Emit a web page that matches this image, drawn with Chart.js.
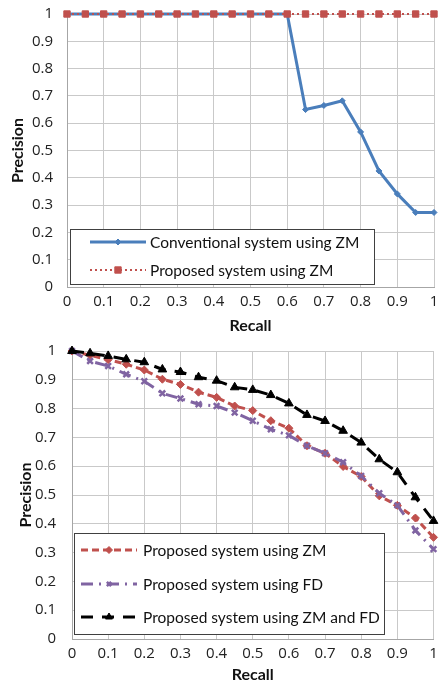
<!DOCTYPE html>
<html>
<head>
<meta charset="utf-8">
<script src="https://cdn.jsdelivr.net/npm/chart.js@4"></script>
<style>
  body { margin: 0; background: #fff; }
  canvas { display: block; }
</style>
</head>
<body>
<canvas id="chart-top" width="440" height="340"></canvas>
<canvas id="chart-bottom" width="440" height="344"></canvas>
<script>
const recall = [0, 0.05, 0.1, 0.15, 0.2, 0.25, 0.3, 0.35, 0.4, 0.45, 0.5, 0.55, 0.6, 0.65, 0.7, 0.75, 0.8, 0.85, 0.9, 0.95, 1];

// top chart
const conventionalZM = [1, 1, 1, 1, 1, 1, 1, 1, 1, 1, 1, 1, 1, 0.65, 0.665, 0.682, 0.568, 0.425, 0.341, 0.273, 0.273];
const proposedZMTop = [1, 1, 1, 1, 1, 1, 1, 1, 1, 1, 1, 1, 1, 1, 1, 1, 1, 1, 1, 1, 1];

// bottom chart
const proposedZM = [1, 0.985, 0.97, 0.954, 0.934, 0.902, 0.884, 0.857, 0.839, 0.809, 0.793, 0.758, 0.732, 0.671, 0.645, 0.599, 0.564, 0.497, 0.464, 0.42, 0.353];
const proposedFD = [1, 0.965, 0.948, 0.919, 0.895, 0.853, 0.835, 0.815, 0.809, 0.786, 0.758, 0.728, 0.707, 0.671, 0.645, 0.614, 0.566, 0.506, 0.464, 0.377, 0.312];
const proposedZMFD = [1, 0.992, 0.983, 0.971, 0.961, 0.936, 0.927, 0.909, 0.897, 0.874, 0.865, 0.847, 0.818, 0.778, 0.757, 0.723, 0.682, 0.624, 0.579, 0.492, 0.41];

const corAzul = "#4A7EBB";
const corVermelha = "#C0504D";
const corRoxa = "#8064A2";
const corPreta = "#000000";
const fonteTicks = "'Open Sans', sans-serif";
const fonte = "Lato, 'Open Sans', sans-serif";

function pontos(valores) {
  return recall.map((r, i) => ({ x: r, y: valores[i] }));
}

function rotulo(v) {
  return String(Number(v.toFixed(1)));
}

// legend drawn as a box inside the plot area
const legendBox = {
  id: "legendBox",
  afterDatasetsDraw(chart, args, opts) {
    const { ctx, chartArea } = chart;
    const x = Math.round(chartArea.left + opts.dx);
    const y = Math.round(chartArea.bottom - opts.dy - opts.h);
    ctx.save();
    ctx.fillStyle = "#fff";
    ctx.fillRect(x, y, opts.w, opts.h);
    ctx.strokeStyle = "#404040";
    ctx.lineWidth = 1;
    ctx.strokeRect(x + 0.5, y + 0.5, opts.w, opts.h);

    chart.data.datasets.forEach((ds, i) => {
      const cy = y + opts.rows[i];
      ctx.save();
      ctx.strokeStyle = ds.borderColor;
      ctx.lineWidth = ds.borderWidth;
      ctx.setLineDash(ds.borderDash || []);
      ctx.beginPath();
      ctx.moveTo(x + opts.lx0, cy);
      ctx.lineTo(x + opts.lx1, cy);
      ctx.stroke();
      ctx.setLineDash([]);
      ctx.fillStyle = ds.pointBackgroundColor;
      ctx.strokeStyle = ds.pointBorderColor;
      ctx.lineWidth = ds.pointBorderWidth;
      Chart.helpers.drawPoint(ctx, {
        pointStyle: ds.pointStyle,
        radius: ds.legendRadius || ds.pointRadius,
        borderWidth: ds.pointBorderWidth,
        rotation: 0
      }, x + (opts.lx0 + opts.lx1) / 2, cy);
      ctx.restore();

      ctx.fillStyle = "#111";
      ctx.font = "15.5px " + fonte;
      ctx.textBaseline = "middle";
      ctx.fillText(ds.label, x + opts.tx, cy + 1);
    });
    ctx.restore();
  }
};

function criarOptions(cfg) {
  return {
    responsive: false,
    animation: false,
    layout: { padding: { top: cfg.padTop, right: 6, left: 0, bottom: 0 } },
    plugins: {
      legend: { display: false },
      tooltip: { enabled: false },
      legendBox: cfg.legenda
    },
    scales: {
      x: {
        type: "linear",
        min: 0,
        max: 1,
        ticks: {
          stepSize: 0.1,
          color: "#222",
          padding: 6,
          maxRotation: 0,
          font: { family: fonteTicks, size: 15 },
          callback: rotulo
        },
        grid: { color: "#c9c9c9", drawTicks: false },
        border: { color: "#a6a6a6" },
        title: {
          display: true,
          text: "Recall",
          color: "#111",
          font: { family: fonte, size: 16, weight: "bold" },
          padding: { top: 0, bottom: cfg.xTitlePad }
        },
        afterFit: (s) => {
          s.height = cfg.xAltura;
          s.paddingLeft = 0;
          s.paddingRight = 0;
        }
      },
      y: {
        min: 0,
        max: 1,
        ticks: {
          stepSize: 0.1,
          color: "#222",
          padding: cfg.yTickPad,
          font: { family: fonteTicks, size: 15 },
          callback: rotulo
        },
        grid: { color: "#c9c9c9", drawTicks: false },
        border: { color: "#a6a6a6" },
        title: {
          display: true,
          text: "Precision",
          color: "#111",
          font: { family: fonte, size: 16, weight: "bold" },
          padding: { top: cfg.yTitlePad, bottom: 0 }
        },
        afterFit: (s) => {
          s.width = cfg.yLargura;
          s.paddingTop = 0;
          s.paddingBottom = 0;
        }
      }
    }
  };
}

new Chart(document.getElementById("chart-top"), {
  type: "scatter",
  data: {
    datasets: [
      {
        label: "Conventional system using ZM",
        data: pontos(conventionalZM),
        showLine: true,
        borderColor: corAzul,
        borderWidth: 3,
        pointStyle: "rectRot",
        pointRadius: 3,
        pointBackgroundColor: corAzul,
        pointBorderColor: corAzul,
        pointBorderWidth: 1,
        clip: false,
        order: 2
      },
      {
        label: "Proposed system using ZM",
        data: pontos(proposedZMTop),
        showLine: true,
        borderColor: corVermelha,
        borderWidth: 2,
        borderDash: [2, 3],
        pointStyle: "rect",
        pointRadius: 4.5,
        pointBackgroundColor: corVermelha,
        pointBorderColor: corVermelha,
        pointBorderWidth: 1,
        clip: false,
        order: 1
      }
    ]
  },
  options: criarOptions({
    padTop: 14,
    xAltura: 53,
    yLargura: 67,
    xTitlePad: 5,
    yTitlePad: 8,
    yTickPad: 14,
    legenda: { dx: 3, dy: 3, w: 304, h: 55, rows: [13, 41], lx0: 20, lx1: 76, tx: 80 }
  }),
  plugins: [legendBox]
});

new Chart(document.getElementById("chart-bottom"), {
  type: "scatter",
  data: {
    datasets: [
      {
        label: "Proposed system using ZM",
        data: pontos(proposedZM),
        showLine: true,
        borderColor: corVermelha,
        borderWidth: 3,
        borderDash: [7, 4],
        pointStyle: "rectRot",
        pointRadius: 4,
        pointBackgroundColor: corVermelha,
        pointBorderColor: corVermelha,
        pointBorderWidth: 1,
        legendRadius: 3.5,
        clip: false,
        order: 3
      },
      {
        label: "Proposed system using FD",
        data: pontos(proposedFD),
        showLine: true,
        borderColor: corRoxa,
        borderWidth: 3,
        borderDash: [12, 6, 2, 6],
        pointStyle: "crossRot",
        pointRadius: 4,
        pointBackgroundColor: corRoxa,
        pointBorderColor: corRoxa,
        pointBorderWidth: 2.5,
        legendRadius: 3,
        clip: false,
        order: 2
      },
      {
        label: "Proposed system using ZM and FD",
        data: pontos(proposedZMFD),
        showLine: true,
        borderColor: corPreta,
        borderWidth: 3,
        borderDash: [12, 9],
        pointStyle: "triangle",
        pointRadius: 5,
        pointBackgroundColor: corPreta,
        pointBorderColor: corPreta,
        pointBorderWidth: 1,
        legendRadius: 4,
        clip: false,
        order: 1
      }
    ]
  },
  options: criarOptions({
    padTop: 11,
    xAltura: 45,
    yLargura: 72,
    xTitlePad: 0,
    yTitlePad: 16,
    yTickPad: 16,
    legenda: { dx: 2, dy: 5, w: 310, h: 101, rows: [17, 51, 84], lx0: 7, lx1: 63, tx: 69 }
  }),
  plugins: [legendBox]
});
</script>
</body>
</html>
